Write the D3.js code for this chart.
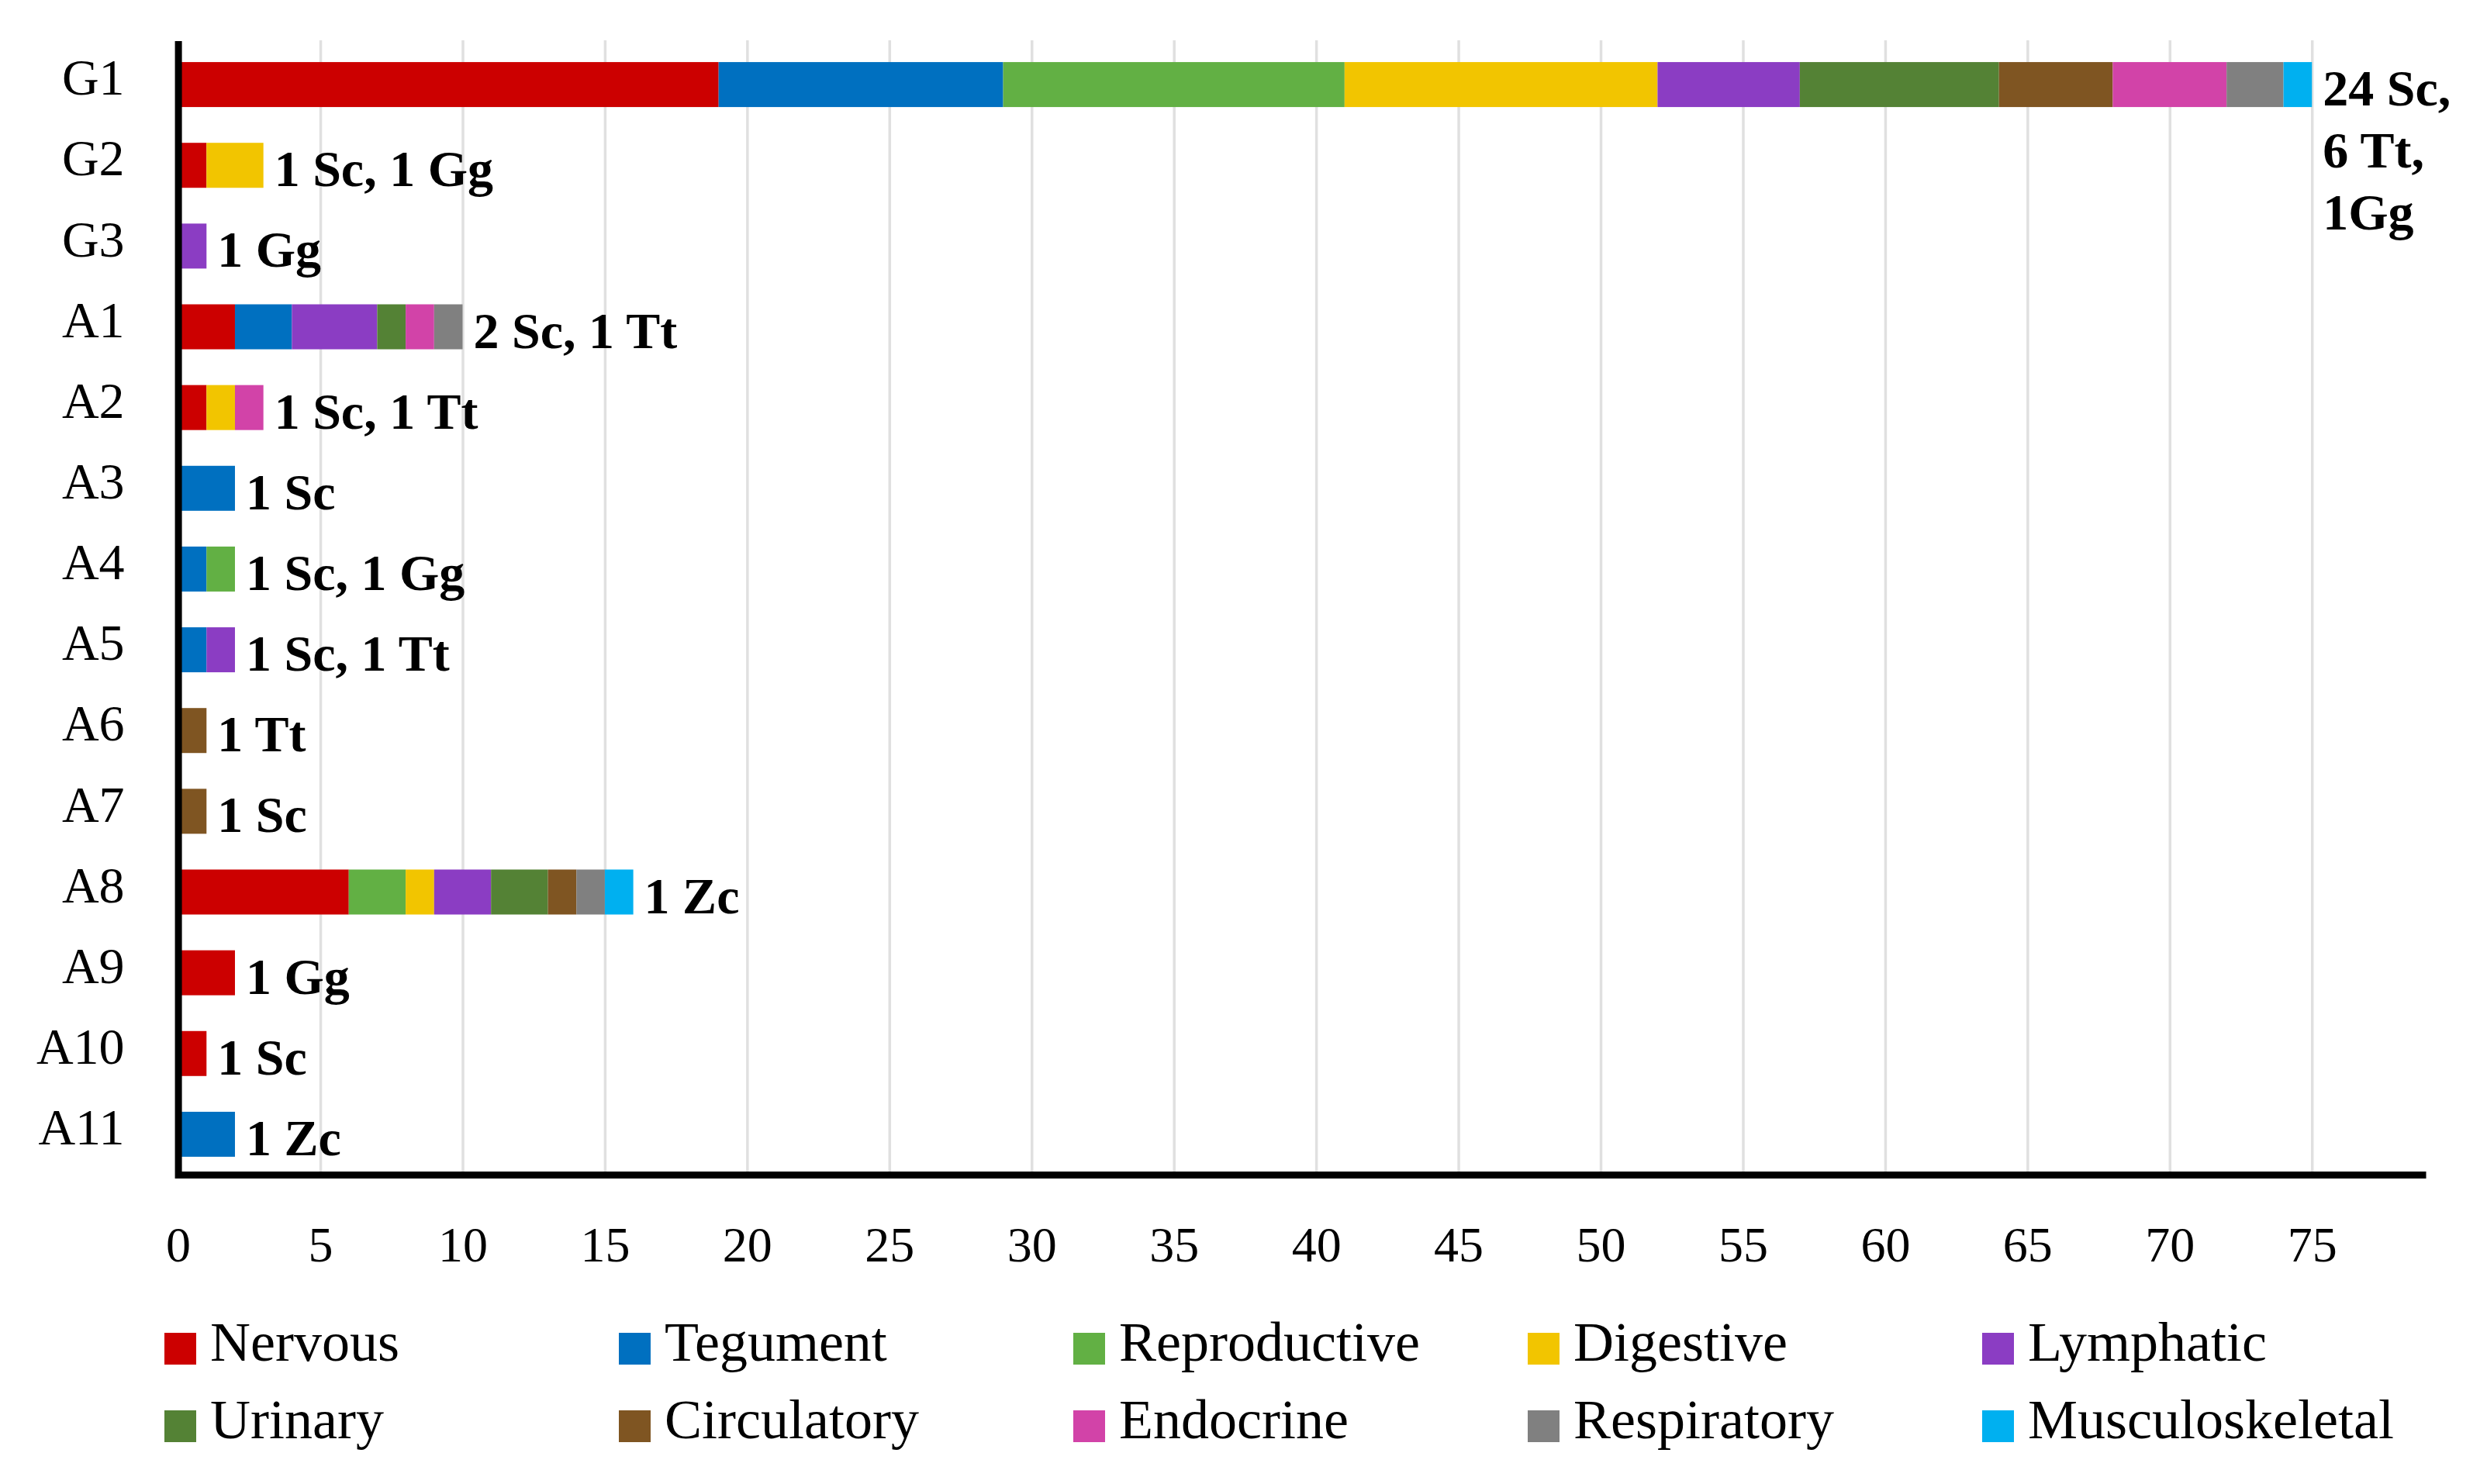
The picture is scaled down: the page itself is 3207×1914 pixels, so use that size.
<!DOCTYPE html>
<html>
<head>
<meta charset="utf-8">
<script src="https://cdn.jsdelivr.net/npm/d3@7"></script>
<style>
  body { margin: 0; background: #fff; }
  text { font-family: "Liberation Serif", "Times New Roman", serif; fill: #000; }
</style>
</head>
<body>
<div id="chart"></div>
<script>
// rows, top to bottom
var categories = ["G1", "G2", "G3", "A1", "A2", "A3", "A4", "A5", "A6", "A7", "A8", "A9", "A10", "A11"];

var systems = ["Nervous", "Tegument", "Reproductive", "Digestive", "Lymphatic",
               "Urinary", "Circulatory", "Endocrine", "Respiratory", "Musculoskeletal"];
var colors = ["#CC0000", "#0070C0", "#62B044", "#F2C500", "#8B3DC3",
              "#548235", "#7F5522", "#D243A8", "#808080", "#00B0F0"];

var nervous         = [19, 1, 0, 2, 1, 0, 0, 0, 0, 0, 6, 2, 1, 0];
var tegument        = [10, 0, 0, 2, 0, 2, 1, 1, 0, 0, 0, 0, 0, 2];
var reproductive    = [12, 0, 0, 0, 0, 0, 1, 0, 0, 0, 2, 0, 0, 0];
var digestive       = [11, 2, 0, 0, 1, 0, 0, 0, 0, 0, 1, 0, 0, 0];
var lymphatic       = [5, 0, 1, 3, 0, 0, 0, 1, 0, 0, 2, 0, 0, 0];
var urinary         = [7, 0, 0, 1, 0, 0, 0, 0, 0, 0, 2, 0, 0, 0];
var circulatory     = [4, 0, 0, 0, 0, 0, 0, 0, 1, 1, 1, 0, 0, 0];
var endocrine       = [4, 0, 0, 1, 1, 0, 0, 0, 0, 0, 0, 0, 0, 0];
var respiratory     = [2, 0, 0, 1, 0, 0, 0, 0, 0, 0, 1, 0, 0, 0];
var musculoskeletal = [1, 0, 0, 0, 0, 0, 0, 0, 0, 0, 1, 0, 0, 0];

var barLabels = [["24 Sc,", "6 Tt,", "1Gg"], ["1 Sc, 1 Gg"], ["1 Gg"], ["2 Sc, 1 Tt"], ["1 Sc, 1 Tt"],
                 ["1 Sc"], ["1 Sc, 1 Gg"], ["1 Sc, 1 Tt"], ["1 Tt"], ["1 Sc"], ["1 Zc"],
                 ["1 Gg"], ["1 Sc"], ["1 Zc"]];

var xTicks = [0, 5, 10, 15, 20, 25, 30, 35, 40, 45, 50, 55, 60, 65, 70, 75];
var xMax = 79;

var seriesValues = [nervous, tegument, reproductive, digestive, lymphatic,
                    urinary, circulatory, endocrine, respiratory, musculoskeletal];

var table = categories.map(function(c, i) {
  var row = { cat: c };
  systems.forEach(function(s, j) { row[s] = seriesValues[j][i]; });
  return row;
});

var svgWidth = 3207;
var svgHeight = 1914;

var plot = { left: 229.6, right: 3128, top: 57, bottom: 1515 };

var svg = d3.select("#chart")
  .append("svg")
  .attr("width", svgWidth)
  .attr("height", svgHeight);

var x = d3.scaleLinear()
  .domain([0, xMax])
  .range([plot.left, plot.right]);

var y = d3.scaleBand()
  .domain(categories)
  .range([plot.top, plot.bottom])
  .paddingInner(0.443)
  .paddingOuter(0.2215);

var color = d3.scaleOrdinal().domain(systems).range(colors);

// gridlines
svg.append("g")
  .attr("transform", "translate(0," + plot.bottom + ")")
  .call(d3.axisBottom(x).tickValues(xTicks.slice(1)).tickSize(-(plot.bottom - 52)).tickFormat(""))
  .call(function(g) {
    g.select(".domain").remove();
    g.selectAll("line").attr("stroke", "#E0E0E0").attr("stroke-width", 3.5);
  });

// stacked bars
var stacked = d3.stack().keys(systems)(table);

svg.append("g")
  .selectAll("g")
  .data(stacked)
  .enter()
  .append("g")
  .attr("fill", function(d) { return color(d.key); })
  .selectAll("rect")
  .data(function(d) { return d; })
  .enter()
  .append("rect")
  .attr("x", function(d) { return x(d[0]); })
  .attr("y", function(d) { return y(d.data.cat); })
  .attr("width", function(d) { return x(d[1]) - x(d[0]); })
  .attr("height", y.bandwidth());

// bar end labels
var totals = table.map(function(r) { return d3.sum(systems, function(s) { return r[s]; }); });

var labels = svg.append("g")
  .selectAll("text")
  .data(categories)
  .enter()
  .append("text")
  .attr("x", function(d, i) { return x(totals[i]) + 14; })
  .attr("y", function(d) { return y(d) + y.bandwidth() / 2 + 27; })
  .attr("font-size", 66)
  .attr("font-weight", "bold");

labels.each(function(d, i) {
  var t = d3.select(this);
  var lx = t.attr("x");
  barLabels[i].forEach(function(line, k) {
    t.append("tspan")
      .attr("x", lx)
      .attr("dy", k === 0 ? 0 : 80)
      .text(line);
  });
});

// x axis
svg.append("g")
  .attr("transform", "translate(0," + plot.bottom + ")")
  .call(d3.axisBottom(x).tickValues(xTicks).tickSizeInner(0).tickSizeOuter(0).tickPadding(67))
  .call(function(g) {
    g.select(".domain").attr("stroke", "#000").attr("stroke-width", 9);
    g.selectAll("text").attr("font-size", 64).attr("font-family", "Liberation Serif");
  });

// y axis
svg.append("g")
  .attr("transform", "translate(" + plot.left + ",0)")
  .call(d3.axisLeft(y).tickSizeInner(0).tickSizeOuter(0).tickPadding(69))
  .call(function(g) {
    g.select(".domain").attr("stroke", "#000").attr("stroke-width", 9).attr("stroke-linecap", "square");
    g.selectAll("text").attr("font-size", 66).attr("font-family", "Liberation Serif").attr("dy", "0.2em");
  });

// legend
var legend = svg.append("g")
  .selectAll("g")
  .data(systems)
  .enter()
  .append("g")
  .attr("transform", function(d, i) {
    return "translate(" + (212 + (i % 5) * 586) + "," + (1719 + Math.floor(i / 5) * 100) + ")";
  });

legend.append("rect")
  .attr("width", 41)
  .attr("height", 41)
  .attr("fill", function(d) { return color(d); });

legend.append("text")
  .attr("x", 59)
  .attr("y", 36)
  .attr("font-size", 72)
  .text(function(d) { return d; });
</script>
</body>
</html>
